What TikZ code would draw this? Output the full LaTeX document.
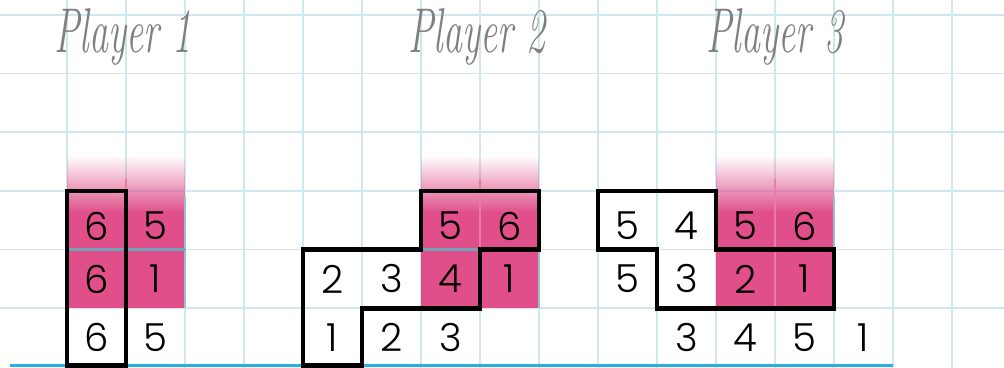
\documentclass[tikz,border=0pt]{standalone}
\usepackage{fontspec}
\usepackage{graphicx}
\newfontfamily\digitfont{Poppins Light}
\usetikzlibrary{fadings}
\definecolor{gridc}{HTML}{CFE7EF}
\definecolor{pinkc}{HTML}{E04F8A}
\definecolor{pinkline}{HTML}{6FA3B9}
\definecolor{baseblue}{HTML}{2BAEE0}
\definecolor{titlec}{HTML}{7F7F7F}
\tikzfading[name=pinkfade, top color=transparent!100, bottom color=transparent!0]
\begin{document}
\begin{tikzpicture}[x=1.18cm, y=1.174cm,
  gridline/.style={draw=gridc, line width=1pt},
  pinkcol/.style={fill=pinkc},
  pinkfadecol/.style={fill=pinkc, path fading=pinkfade},
  pinksep/.style={draw=pinkline, line width=1.8pt},
  pinkmid/.style={draw=pinkc!75!white, line width=0.8pt},
  pinkedge/.style={draw=pinkline!70!white, line width=1.2pt},
  outline/.style={draw=black, line width=2.6pt, line join=miter},
  digit/.style={font=\digitfont\fontsize{22}{22}\selectfont, text=black, inner sep=0pt},
  ptitle/.style={font=\fontsize{36}{36}\selectfont\itshape, text=titlec, anchor=base}]
\useasboundingbox (-0.1356,-0.017) rectangle (16.881,6.252);
\fill[white] (-0.1356,-0.017) rectangle (16.881,6.252);
% grid
\foreach \i in {1,...,16} \draw[gridline] (\i,-0.017) -- (\i,6.252);
\foreach \j in {1,...,6} \draw[gridline] (-0.1356,\j) -- (16.881,\j);
% pink columns
\foreach \c in {1,7,12} {
  \fill[pinkcol] (\c,1) rectangle (\c+2,2.64);
  \fill[pinkfadecol] (\c,2.63) rectangle (\c+2,3.6);
  \draw[pinkmid] (\c+1,1) -- (\c+1,3.2);
  \draw[pinkedge] (\c+2,1) -- (\c+2,2.9);
  \draw[pinksep] (\c,2) -- (\c+2,2);
}
% base line
\draw[baseblue, line width=1.6pt] (0.03,0.02) -- (15,0.02);
% outlines
\draw[outline] (1,0.03) rectangle (2,3);
\draw[outline] (5,0.03) -- (5,2) -- (7,2) -- (7,3) -- (9,3) -- (9,2) -- (8,2) -- (8,1) -- (6,1) -- (6,0.03) -- cycle;
\draw[outline] (10,2) -- (10,3) -- (12,3) -- (12,2) -- (14,2) -- (14,1) -- (11,1) -- (11,2) -- cycle;
% digits
\foreach \x/\y/\d in {1/2/6,2/2/5,1/1/6,2/1/1,1/0/6,2/0/5,
  7/2/5,8/2/6,5/1/2,6/1/3,7/1/4,8/1/1,5/0/1,6/0/2,7/0/3,
  10/2/5,11/2/4,12/2/5,13/2/6,10/1/5,11/1/3,12/1/2,13/1/1,11/0/3,12/0/4,13/0/5,14/0/1} {
  \pgfmathsetmacro{\yy}{\y==2 ? \y+0.4 : \y+0.5}
  \node[digit] (n-\x-\y) at (\x+0.5,\yy) {\d};
}
% titles
\node[ptitle] (t1) at (1.95,5.35) {\scalebox{0.6}[1]{Player 1}};
\node[ptitle] (t2) at (7.95,5.35) {\scalebox{0.6}[1]{Player 2}};
\node[ptitle] (t3) at (13.0,5.35) {\scalebox{0.6}[1]{Player 3}};
\end{tikzpicture}
\end{document}
